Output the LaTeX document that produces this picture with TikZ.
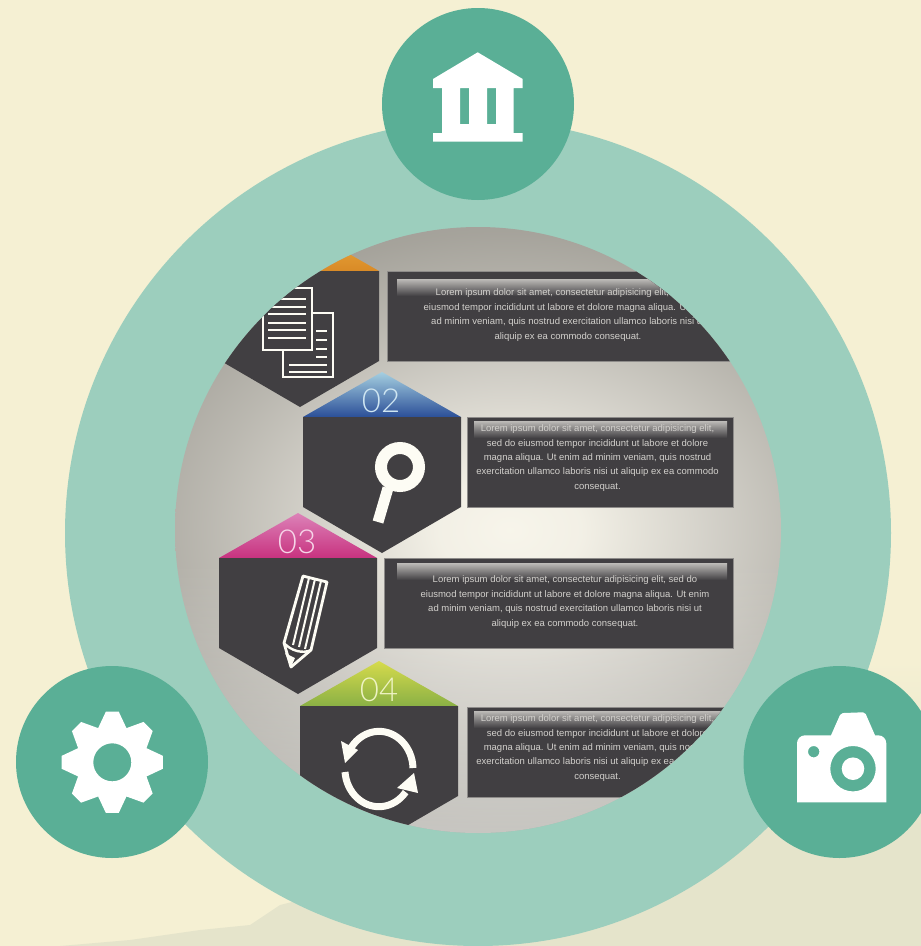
\documentclass[tikz,border=0pt]{standalone}
\usepackage{fontspec}
\usetikzlibrary{fadings}
\setmainfont{Liberation Sans}
\newfontfamily\numfont{Lato Light}
\definecolor{bgcream}{HTML}{F5F0D3}
\definecolor{bgdark}{HTML}{E5E4CB}
\definecolor{ringc}{HTML}{9CCEBD}
\definecolor{discc}{HTML}{5AAF96}
\definecolor{hexc}{HTML}{413F42}
\definecolor{txtc}{HTML}{D2D0CC}
\definecolor{iconc}{HTML}{FDFCF4}
\definecolor{gl}{HTML}{BDBBB8}
\definecolor{edgec}{HTML}{8E8C8A}
\definecolor{orangetop}{HTML}{EFB043}
\definecolor{orangebot}{HTML}{D98A26}
\definecolor{bluetop}{HTML}{A5CFE0}
\definecolor{bluebot}{HTML}{2B4F98}
\definecolor{pinktop}{HTML}{DC82B8}
\definecolor{pinkbot}{HTML}{C8327F}
\definecolor{greentop}{HTML}{D6DB4C}
\definecolor{greenbot}{HTML}{8AB045}
\definecolor{bluetxt}{HTML}{CFE6F2}
\definecolor{pinktxt}{HTML}{F6D5E8}
\definecolor{greentxt}{HTML}{EEF3C4}
\pgfdeclareradialshading{discshade}{\pgfqpoint{0bp}{0bp}}{rgb(0bp)=(0.97,0.96,0.92);rgb(4bp)=(0.95,0.94,0.90);rgb(11bp)=(0.83,0.82,0.79);rgb(17bp)=(0.73,0.72,0.69);rgb(22.5bp)=(0.65,0.64,0.61);rgb(25bp)=(0.63,0.62,0.60);rgb(50bp)=(0.63,0.62,0.60)}
\tikzset{
 hexbody/.style={fill=hexc},
 tbox/.style={fill=hexc,draw=edgec,line width=0.7pt},
 lorem/.style={text=txtc,font=\fontsize{9.5}{14.4}\selectfont,align=center,inner sep=0pt},
 numlab/.style={font=\numfont\fontsize{33}{33}\selectfont,inner sep=0pt},
 iconline/.style={draw=iconc,line width=2.8pt,line join=miter},
 disc/.style={fill=discc}
}
\newcommand{\hexagon}[4]{%
 \shade[top color=#3,bottom color=#4] (#1,#2-45) -- (#1+79,#2) -- (#1-79,#2) -- cycle;
 \fill[hexbody] (#1-79,#2) -- (#1+79,#2) -- (#1+79,#2+90) -- (#1,#2+136) -- (#1-79,#2+90) -- cycle;
}
\newcommand{\glossbar}[3]{\shade[top color=gl,bottom color=hexc] (#1,#3) rectangle (#2,#3+17);}
\begin{document}
\begin{tikzpicture}[x=1pt,y=-1pt]
\useasboundingbox (0,0) rectangle (921,946);
\fill[bgcream] (0,0) rectangle (921,946);
\shade[top color=bgcream,bottom color=bgdark] (300,660) rectangle (921,830);
\fill[bgdark] (300,830) rectangle (921,946);
\fill[bgdark] (60,946) -- (130,940) -- (200,930) -- (250,925) -- (280,905) -- (300,900) -- (300,946) -- cycle;
\fill[ringc] (478,533) circle [radius=413];
\begin{scope}
\clip (478,530) circle [radius=303];
\shade[shading=discshade] (60,200) rectangle (960,860);
\fill[white,opacity=.4,path fading=north] (170,560) rectangle (790,840);
\hexagon{300}{271}{orangetop}{orangebot}
\hexagon{382}{417}{bluetop}{bluebot}
\hexagon{298}{558}{pinktop}{pinkbot}
\hexagon{379}{706}{greentop}{greenbot}
\filldraw[tbox] (387,271) rectangle (760,361);
\filldraw[tbox] (467,417) rectangle (733,507);
\filldraw[tbox] (384,558) rectangle (733,648);
\filldraw[tbox] (467,707) rectangle (733,797);
\glossbar{397}{755}{279}
\glossbar{474}{727}{421}
\glossbar{397}{727}{563}
\glossbar{474}{727}{711}
\node[lorem] (t1) at (568,315) {Lorem ipsum dolor sit amet, consectetur adipisicing elit, sed do\\eiusmod tempor incididunt ut labore et dolore magna aliqua. Ut enim\\ad minim veniam, quis nostrud exercitation ullamco laboris nisi ut\\aliquip ex ea commodo consequat.};
\node[lorem] (t2) at (597.5,458) {Lorem ipsum dolor sit amet, consectetur adipisicing elit,\\sed do eiusmod tempor incididunt ut labore et dolore\\magna aliqua. Ut enim ad minim veniam, quis nostrud\\exercitation ullamco laboris nisi ut aliquip ex ea commodo\\consequat.};
\node[lorem] (t3) at (565,602) {Lorem ipsum dolor sit amet, consectetur adipisicing elit, sed do\\eiusmod tempor incididunt ut labore et dolore magna aliqua. Ut enim\\ad minim veniam, quis nostrud exercitation ullamco laboris nisi ut\\aliquip ex ea commodo consequat.};
\node[lorem] (t4) at (597.5,748) {Lorem ipsum dolor sit amet, consectetur adipisicing elit,\\sed do eiusmod tempor incididunt ut labore et dolore\\magna aliqua. Ut enim ad minim veniam, quis nostrud\\exercitation ullamco laboris nisi ut aliquip ex ea commodo\\consequat.};
\node[numlab,text=bluetxt] (n2) at (381,401) {02};
\node[numlab,text=pinktxt] (n3) at (297,542) {03};
\node[numlab,text=greentxt] (n4) at (379,690) {04};
% documents
\draw[iconline,fill=hexc] (283,313) rectangle (333,377);
\draw[iconc,line width=2.8pt] (316,331) -- (327,331) (316,340) -- (327,340) (316,349) -- (327,349) (316,357) -- (327,357) (289,365) -- (327,365) (289,372) -- (327,372);
\draw[iconline,fill=hexc] (263,288) rectangle (312,350);
\draw[iconc,line width=2.8pt] (268,299) -- (306,299) (268,307) -- (306,307) (268,314) -- (306,314) (268,323) -- (306,323) (268,330) -- (306,330) (268,338) -- (306,338);
% magnifier
\draw[iconc,line width=11pt] (388,488) -- (378,522);
\draw[iconc,line width=12pt,fill=hexc] (400,467) circle [radius=19];
% pencil
\draw[iconline,line join=round] (303,576) -- (327,582) -- (311,650) -- (291,667) -- (284,643) -- cycle;
\draw[iconc,line width=2pt] (309,578) -- (293,645) (315,579) -- (299,647) (321,581) -- (305,649);
\draw[iconc,line width=2.4pt] (284,643) .. controls (291,651) and (303,654) .. (311,650);
\fill[iconc] (285,653) -- (295,658) -- (291,667) -- cycle;
% cycle arrows
\draw[iconc,line width=7pt] (413,768) arc[start angle=-2,end angle=-145,x radius=34,y radius=38];
\fill[iconc] (341,741) -- (358,750) -- (345,763) -- cycle;
\draw[iconc,line width=7pt] (345,772) arc[start angle=175,end angle=38,x radius=34,y radius=38];
\fill[iconc] (414,773) -- (418,793) -- (397,788) -- cycle;
\end{scope}
% discs
\fill[disc] (478,104) circle [radius=96];
\fill[disc] (112,762) circle [radius=96];
\fill[disc] (839.5,762) circle [radius=96];
% bank
\fill[white,even odd rule] (477.7,52.3) -- (522.7,79) -- (522.7,88) -- (513.7,88) -- (513.7,133) -- (522.7,133) -- (522.7,141.7) -- (433,141.7) -- (433,133) -- (442,133) -- (442,88) -- (433,88) -- (433,79) -- cycle
 (460,88) rectangle (469,124) (487,88) rectangle (496,124);
% gear
\fill[white,even odd rule] (112.3,762.3) +(-7.3:51) \foreach \k in {0,1,...,7}{ -- +({\k*45-7.3}:51) -- +({\k*45+7.3}:51) -- +({\k*45+22.5}:37)} -- cycle (112.3,762.3) circle [radius=19];
% camera
\fill[white,even odd rule] (797,802.3) -- (797,743.3) arc[start angle=180,end angle=270,radius=8] -- (831,735.3) -- (840,715) arc[start angle=200,end angle=270,radius=3] -- (863,712.3) arc[start angle=-90,end angle=-25,radius=3] -- (875,735.3) -- (878.3,735.3) arc[start angle=-90,end angle=0,radius=8] -- (886.3,802.3) -- cycle
 (853,768.7) circle [radius=22.7] (813.7,751.7) circle [radius=5.7];
\fill[white] (853,768.7) circle [radius=11.3];
\end{tikzpicture}
\end{document}
